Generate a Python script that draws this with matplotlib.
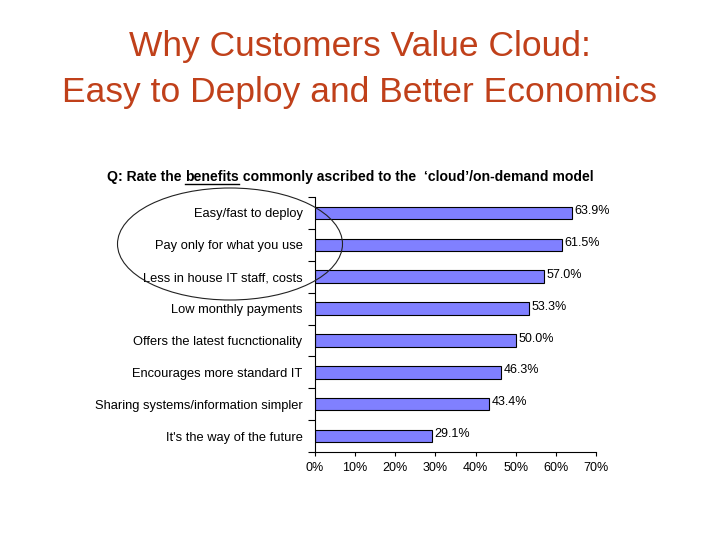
import matplotlib
matplotlib.use("Agg")
import matplotlib.pyplot as plt
from matplotlib.patches import Ellipse
from matplotlib.lines import Line2D
import numpy as np

categories = ["Easy/fast to deploy", "Pay only for what you use",
              "Less in house IT staff, costs", "Low monthly payments",
              "Offers the latest fucnctionality", "Encourages more standard IT",
              "Sharing systems/information simpler", "It's the way of the future"]
values = [63.9, 61.5, 57.0, 53.3, 50.0, 46.3, 43.4, 29.1]
xticks = [0, 10, 20, 30, 40, 50, 60, 70]
title1 = "Why Customers Value Cloud:"
title2 = "Easy to Deploy and Better Economics"

plt.rcParams['font.family'] = ['Liberation Sans', 'DejaVu Sans']
W, H = 720, 540
fig = plt.figure(figsize=(7.2, 5.4), dpi=100)
fig.patch.set_facecolor("white")

def fx(px):
    return px / W

def fy(py):
    return 1 - py / H

ax = fig.add_axes([fx(315), fy(452), fx(596) - fx(315), fy(197) - fy(452)])
n = len(categories)
y = np.arange(n)
ax.barh(y, values, height=0.39, color="#8080FF", edgecolor="black", linewidth=0.8)
ax.set_ylim(n - 0.5, -0.5)
ax.set_xlim(0, 70)
ax.set_xticks(xticks)
ax.set_xticklabels([f"{t}%" for t in xticks], fontsize=9)
ax.set_yticks(y)
ax.set_yticklabels(categories, fontsize=9.3)
ax.tick_params(axis='y', length=0, pad=9)
# boundary tick marks on y axis
ax.set_yticks(np.arange(n + 1) - 0.5, minor=True)
ax.tick_params(axis='y', which='minor', length=5, width=0.8, direction='out')
ax.tick_params(axis='x', length=3, width=0.8, direction='out', pad=4)
for s in ["top", "right"]:
    ax.spines[s].set_visible(False)
for s in ["left", "bottom"]:
    ax.spines[s].set_linewidth(0.8)
for yi, v in zip(y, values):
    ax.text(v + 0.6, yi - 0.06, f"{v:.1f}%", va="center", ha="left", fontsize=9)

tc = "#C0401A"
fig.text(0.5, fy(56), title1, ha="center", va="baseline", fontsize=25.5, color=tc)
fig.text(0.5, fy(102), title2, ha="center", va="baseline", fontsize=25.5, color=tc)

# subtitle with underlined "benefits"
fs = 10.1
t1 = fig.text(fx(107), fy(181), "Q: Rate the ", ha="left", va="baseline",
              fontsize=fs, fontweight="bold")
t2 = fig.text(0, 0, "benefits", ha="left", va="baseline", fontsize=fs, fontweight="bold")
t3 = fig.text(0, 0, " commonly ascribed to the  \u2018cloud\u2019/on-demand model",
              ha="left", va="baseline", fontsize=fs, fontweight="bold")
fig.canvas.draw()
r = fig.canvas.get_renderer()
b1 = t1.get_window_extent(r)
t2.set_position((b1.x1 / W, fy(181)))
fig.canvas.draw()
b2 = t2.get_window_extent(r)
t3.set_position((b2.x1 / W, fy(181)))
fig.add_artist(Line2D([b2.x0 / W, b2.x1 / W], [fy(183.5), fy(183.5)],
                      transform=fig.transFigure, color="black", linewidth=1))

ell = Ellipse((fx(230), fy(244)), fx(225), 112 / H, transform=fig.transFigure,
              fill=False, edgecolor="#222222", linewidth=0.8)
fig.add_artist(ell)

fig.savefig("out.png", dpi=100, facecolor="white")
